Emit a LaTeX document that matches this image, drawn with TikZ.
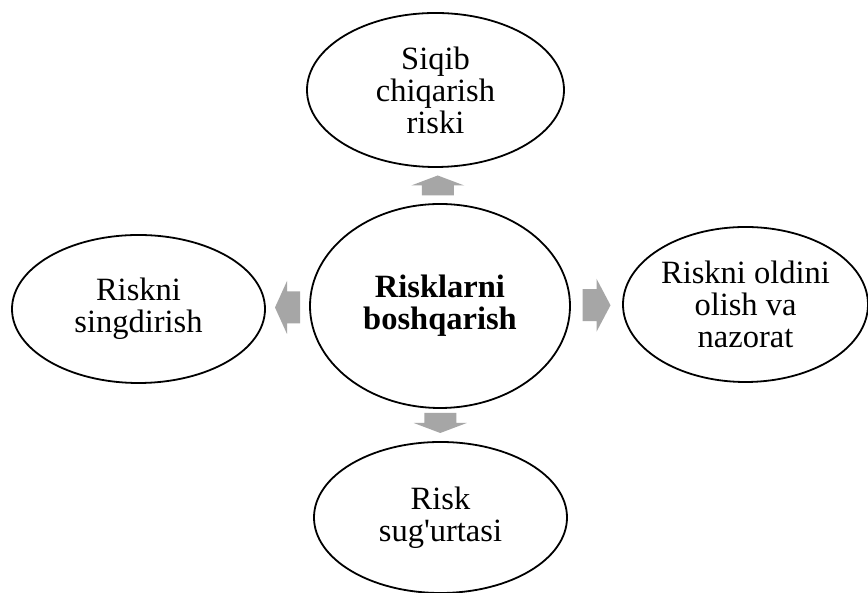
\documentclass[tikz,border=0pt]{standalone}
\usepackage{fontspec}
\setmainfont{Liberation Serif}[Ligatures=TeXOff]
\usetikzlibrary{calc,shapes.geometric}
\definecolor{arrowfill}{RGB}{166,166,166}
\tikzset{
  bubble/.style={ellipse, draw=black, line width=1.8pt, inner sep=0pt,
    align=center, font=\fontsize{32.5}{32}\selectfont},
  % block arrow pointing along +x: #1 = total length, #2 = head length
  pics/blockarrow/.style n args={2}{code={
    \fill[arrowfill] ({-#1/2},-16) -- ({#1/2-#2},-16) -- ({#1/2-#2},-26.5)
      -- ({#1/2},0) -- ({#1/2-#2},26.5) -- ({#1/2-#2},16) -- ({-#1/2},16) -- cycle;
  }}
}
\begin{document}
\begin{tikzpicture}[x=1pt,y=1pt]
\useasboundingbox (0,0) rectangle (868,593);
\fill[white] (0,0) rectangle (868,593);

\node[bubble, minimum width=260pt, minimum height=204pt] (c) at (440,287)
  {\textbf{Risklarni}\\\textbf{boshqarish}};
\node[bubble, minimum width=257pt, minimum height=154pt] (t) at (435.5,503)
  {Siqib\\chiqarish\\riski};
\node[bubble, minimum width=253pt, minimum height=148pt] (l) at (138.5,284)
  {Riskni\\singdirish};
\node[bubble, minimum width=245pt, minimum height=155pt] (r) at (745.5,288.5)
  {Riskni oldini\\olish va\\nazorat};
\node[bubble, minimum width=253pt, minimum height=151pt] (b) at (440.5,75.5)
  {Risk\\sug'urtasi};

\coordinate (au) at ($(c.north)!0.5!(t.south)$);
\coordinate (ad) at ($(c.south)!0.5!(b.north)+(0,2)$);
\coordinate (al) at ($(c.west)!0.5!(l.east)$);
\coordinate (ar) at ($(c.east)!0.5!(r.west)$);

\pic[rotate=90] at (au) {blockarrow={20}{10}};
\pic[rotate=-90] at (ad) {blockarrow={20}{10}};
\pic[rotate=180] at (al) {blockarrow={25}{12}};
\pic at (ar) {blockarrow={28}{14}};
\end{tikzpicture}
\end{document}
